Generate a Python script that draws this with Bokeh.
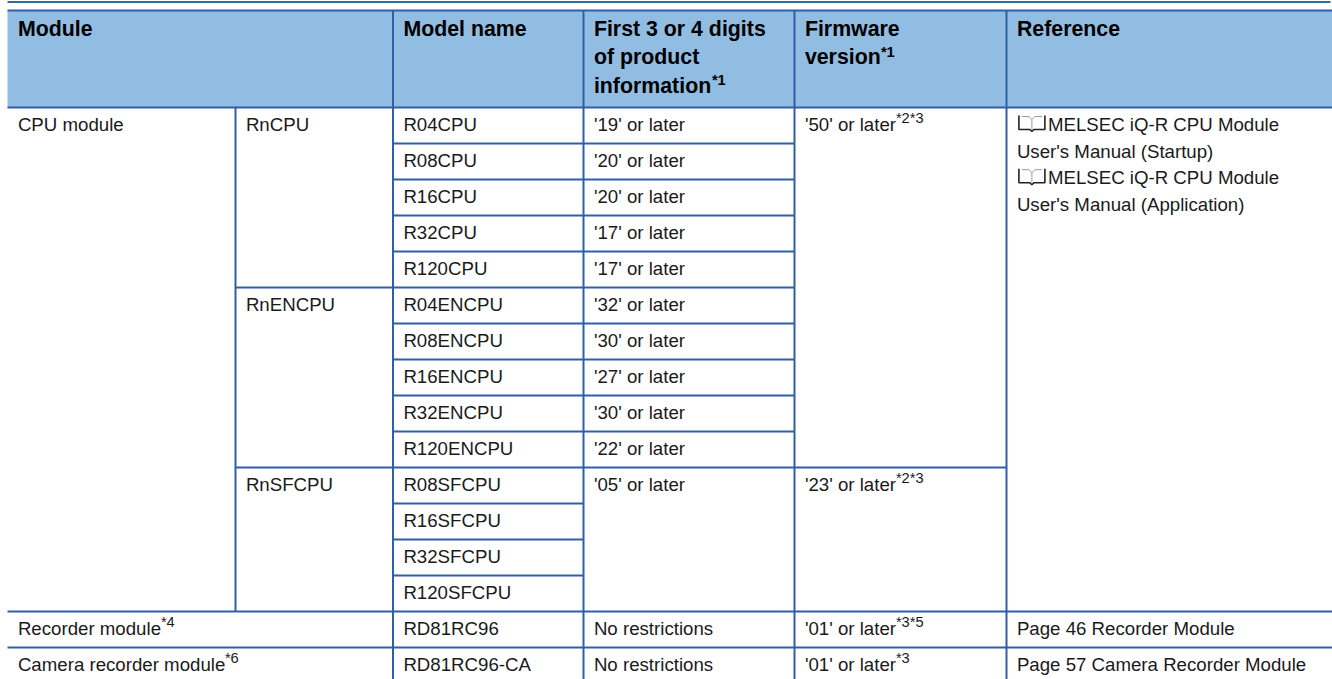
from bokeh.plotting import figure
from bokeh.models import Range1d
from bokeh.core.properties import value
from bokeh.embed import file_html
from bokeh.resources import INLINE

header_labels = ["Module", "Model name", "First 3 or 4 digits\nof product\ninformation", "Firmware\nversion", "Reference"]
header_notes = [None, None, "*1", "*1", None]
groups = ["CPU module"]
subgroups = ["RnCPU", "RnENCPU", "RnSFCPU"]
subgroup_sizes = [5, 5, 4]
models = ["R04CPU", "R08CPU", "R16CPU", "R32CPU", "R120CPU",
          "R04ENCPU", "R08ENCPU", "R16ENCPU", "R32ENCPU", "R120ENCPU",
          "R08SFCPU", "R16SFCPU", "R32SFCPU", "R120SFCPU", "RD81RC96", "RD81RC96-CA"]
product_info = ["'19' or later", "'20' or later", "'20' or later", "'17' or later", "'17' or later",
                "'32' or later", "'30' or later", "'27' or later", "'30' or later", "'22' or later",
                "'05' or later", None, None, None, "No restrictions", "No restrictions"]
firmware = ["'50' or later", None, None, None, None, None, None, None, None, None,
            "'23' or later", None, None, None, "'01' or later", "'01' or later"]
firmware_notes = ["*2*3", None, None, None, None, None, None, None, None, None,
                  "*2*3", None, None, None, "*3*5", "*3"]
ref_lines = ["MELSEC iQ-R CPU Module", "User's Manual (Startup)", "MELSEC iQ-R CPU Module", "User's Manual (Application)"]
ref_book = [True, False, True, False]
other_modules = ["Recorder module", "Camera recorder module"]
other_notes = ["*4", "*6"]
other_refs = ["Page 46 Recorder Module", "Page 57 Camera Recorder Module"]

W, H = 1332, 679
BLUE = "#2e5fa8"
HEAD = "#92bde3"
INK = "#1a1a1a"
FS = 18.67
NOTE = 14.67
HFS = 21.33
FONT = value("Liberation Sans")
COL = [7, 235, 392.5, 583, 794, 1006, 1332]
TOP, HB, ROW = 10, 107, 36
PAD = 10.4
LW = 2
BASE_SHIFT = 0.32  # the renderer sets alphabetic text this many ems too low

p = figure(width=W, height=H, output_backend="svg", toolbar_location=None,
           x_range=Range1d(0, W), y_range=Range1d(H, 0),
           min_border=0, outline_line_color=None, background_fill_color="white")
p.axis.visible = False
p.grid.visible = False

def ry(i):
    return HB + i * ROW

def txt(x, y, s, size=FS, bold=False, color=INK):
    p.text([x], [y - BASE_SHIFT * size], text=[s], text_font=FONT, text_font_size=f"{size}px",
           text_font_style="bold" if bold else "normal", text_color=color,
           text_baseline="alphabetic", text_align="left")

def rule(x0, y0, x1, y1):
    p.segment([x0], [y0], [x1], [y1], line_color=BLUE, line_width=LW)

p.segment([7], [1.5], [W - 2], [1.5], line_color="#2a6f9e", line_width=2)
p.quad(left=[COL[0]], right=[W], top=[TOP], bottom=[HB], fill_color=HEAD, line_color=None)
rule(COL[0], TOP, W, TOP)
rule(COL[0], HB, W, HB)
n_cpu = sum(subgroup_sizes)
for i in range(1, n_cpu):
    if i in (5, 10):
        rule(COL[1], ry(i), COL[4], ry(i))
    elif i < 10:
        rule(COL[2], ry(i), COL[4], ry(i))
    else:
        rule(COL[2], ry(i), COL[3], ry(i))
rule(COL[4], ry(10), COL[5], ry(10))
for i in (n_cpu, n_cpu + 1):
    rule(COL[0], ry(i), W, ry(i))
rule(COL[1], HB, COL[1], ry(n_cpu))
for k in (2, 3, 4, 5):
    rule(COL[k], TOP, COL[k], H)

for lab, note, k in zip(header_labels, header_notes, [0, 2, 3, 4, 5]):
    for j, s in enumerate(lab.split("\n")):
        txt(COL[k] + PAD, TOP + 25 + j * 28.8, s, HFS, True, "#000000")
txt(COL[3] + PAD + 118, TOP + 25 + 2 * 28.8 - 8, header_notes[2], NOTE, True, "#000000")
txt(COL[4] + PAD + 76, TOP + 25 + 28.8 - 8, header_notes[3], NOTE, True, "#000000")

txt(COL[0] + PAD, ry(0) + 23, groups[0])
c = 0
for s, n in zip(subgroups, subgroup_sizes):
    txt(COL[1] + PAD, ry(c) + 23, s)
    c += n
for i, s in enumerate(models):
    txt(COL[2] + PAD, ry(i) + 23, s)
for i, s in enumerate(product_info):
    if s:
        txt(COL[3] + PAD, ry(i) + 23, s)
for i, (s, n) in enumerate(zip(firmware, firmware_notes)):
    if s:
        txt(COL[4] + PAD, ry(i) + 23, s)
        txt(COL[4] + PAD + 91, ry(i) + 15, n, NOTE)
for i, (s, b) in enumerate(zip(ref_lines, ref_book)):
    y = ry(0) + 23 + i * 26.6
    txt(COL[5] + PAD + (31 if b else 0), y, s)
    if b:
        x0 = COL[5] + PAD
        p.multi_line(xs=[[x0 + 5, x0 + 12, x0 + 15, x0 + 18, x0 + 25], [x0 + 15, x0 + 15]],
                     ys=[[y - 14, y - 14, y - 11, y - 14, y - 14], [y - 11, y - 1]],
                     line_color="#999999", line_width=1)
        p.line([x0 + 2, x0 + 2, x0 + 13, x0 + 15, x0 + 17, x0 + 28, x0 + 28],
               [y - 15, y - 1, y - 1, y + 1, y - 1, y - 1, y - 15],
               line_color="#222222", line_width=1.6)
for i, (s, n, r) in enumerate(zip(other_modules, other_notes, other_refs)):
    y = ry(n_cpu + i) + 23
    txt(COL[0] + PAD, y, s)
    txt(COL[0] + PAD + (143 if i == 0 else 207), y - 8, n, NOTE)
    txt(COL[5] + PAD, y, r)

open("out.html", "w").write(file_html(p, INLINE))
